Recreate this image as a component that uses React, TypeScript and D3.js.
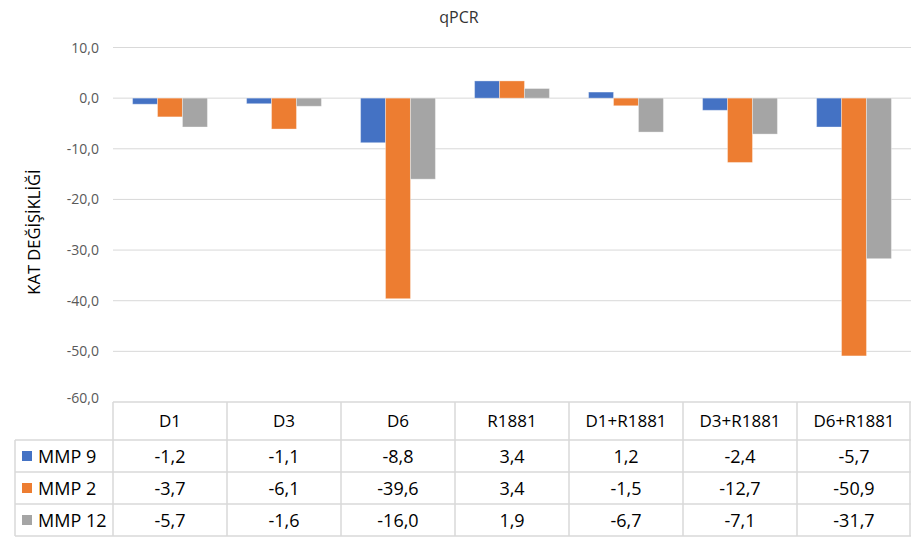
import React from "react";
import * as d3 from "d3";

const categories = ["D1", "D3", "D6", "R1881", "D1+R1881", "D3+R1881", "D6+R1881"];
const seriesNames = ["MMP 9", "MMP 2", "MMP 12"];
const mmp9 = [-1.2, -1.1, -8.8, 3.4, 1.2, -2.4, -5.7];
const mmp2 = [-3.7, -6.1, -39.6, 3.4, -1.5, -12.7, -50.9];
const mmp12 = [-5.7, -1.6, -16.0, 1.9, -6.7, -7.1, -31.7];
const yTicks = [10, 0, -10, -20, -30, -40, -50, -60];
const colors = ["#4472C4", "#ED7D31", "#A5A5A5"];

const W = 911;
const H = 537;
const FONT = "'Open Sans', 'Noto Sans', sans-serif";

const fmt = (v: number) => v.toFixed(1).replace(".", ",");

export default function App() {
  const series = [mmp9, mmp2, mmp12];
  const x = d3.scaleBand<string>().domain(categories).range([113, 911]).padding(0);
  const inner = d3
    .scaleBand<number>()
    .domain([0, 1, 2])
    .range([0, x.bandwidth()])
    .paddingInner(0)
    .paddingOuter(0.785);
  const y = d3.scaleLinear().domain([-60, 10]).range([402, 47.5]);

  const tableTop = 402;
  const headerBottom = 440;
  const rowH = 32;
  const tableLeft = 15;
  const grid = "#d9d9d9";

  return (
    <svg
      width={W}
      height={H}
      style={{ position: "absolute", left: 0, top: 0, background: "#fff" }}
      fontFamily={FONT}
    >
      <rect width={W} height={H} fill="#fff" />
      <text x={459} y={23} textAnchor="middle" fontSize={16} fill="#333">
        qPCR
      </text>
      <text
        transform={`translate(40,232) rotate(-90)`}
        textAnchor="middle"
        fontSize={16.5}
        fill="#000"
      >
        KAT DEĞİŞİKLİĞİ
      </text>

      {yTicks.map((t) => (
        <g key={t}>
          {t > -60 && (
            <line x1={113} x2={911} y1={y(t)} y2={y(t)} stroke={grid} strokeWidth={1} />
          )}
          <text
            x={99}
            y={t === -60 ? y(t) + 1 : y(t) + 5}
            textAnchor="end"
            fontSize={14}
            fill="#595959"
          >
            {fmt(t)}
          </text>
        </g>
      ))}

      {series.map((vals, si) =>
        vals.map((v, ci) => {
          const x0 = (x(categories[ci]) ?? 0) + (inner(si) ?? 0);
          const y0 = y(Math.max(0, v));
          const y1 = y(Math.min(0, v));
          return (
            <rect
              key={`${si}-${ci}`}
              x={x0}
              y={y0}
              width={inner.bandwidth()}
              height={y1 - y0}
              fill={colors[si]}
              stroke="#ffffff"
              strokeOpacity={0.35}
              strokeWidth={1}
            />
          );
        })
      )}

      {/* data table */}
      <g stroke={grid} strokeWidth={1.5} fill="none">
        <line x1={113} x2={911} y1={tableTop} y2={tableTop} />
        {[0, 1, 2, 3].map((i) => (
          <line
            key={i}
            x1={tableLeft}
            x2={911}
            y1={headerBottom + i * rowH}
            y2={headerBottom + i * rowH}
          />
        ))}
        <line x1={tableLeft} x2={tableLeft} y1={headerBottom} y2={headerBottom + 3 * rowH} />
        {categories.map((c) => (
          <line
            key={c}
            x1={x(c) ?? 0}
            x2={x(c) ?? 0}
            y1={tableTop}
            y2={headerBottom + 3 * rowH}
          />
        ))}
        <line x1={910} x2={910} y1={tableTop} y2={headerBottom + 3 * rowH} />
      </g>

      {categories.map((c) => (
        <text
          key={c}
          x={(x(c) ?? 0) + x.bandwidth() / 2}
          y={(tableTop + headerBottom) / 2 + 6}
          textAnchor="middle"
          fontSize={17}
          fill="#000"
        >
          {c}
        </text>
      ))}

      {series.map((vals, si) => {
        const cy = headerBottom + si * rowH + rowH / 2;
        return (
          <g key={si}>
            <rect x={22} y={cy - 5} width={10} height={10} fill={colors[si]} />
            <text x={38} y={cy + 6.5} fontSize={18} fill="#000">
              {seriesNames[si]}
            </text>
            {vals.map((v, ci) => (
              <text
                key={ci}
                x={(x(categories[ci]) ?? 0) + x.bandwidth() / 2}
                y={cy + 6.5}
                textAnchor="middle"
                fontSize={18}
                fill="#000"
              >
                {fmt(v)}
              </text>
            ))}
          </g>
        );
      })}
    </svg>
  );
}
